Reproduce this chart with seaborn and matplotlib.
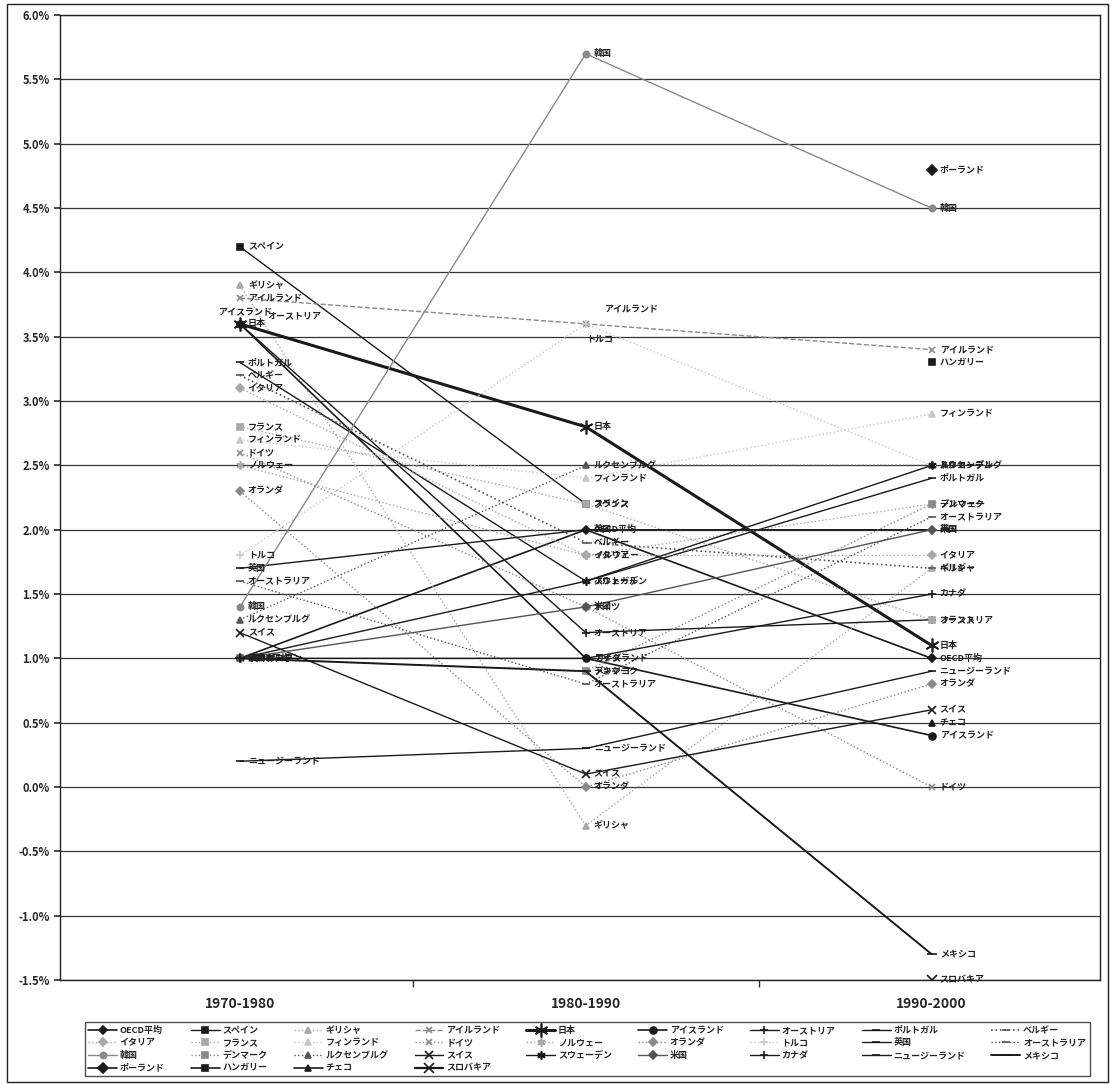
import numpy as np
import pandas as pd
import matplotlib
matplotlib.use('Agg')
import matplotlib.pyplot as plt
import seaborn as sns
from matplotlib.patches import Rectangle
from matplotlib.ticker import FuncFormatter, FixedLocator

sns.set_theme(style='white')
plt.rcParams['font.family'] = ['Noto Sans CJK JP', 'DejaVu Sans']

# 期間
periods = ['1970-1980', '1980-1990', '1990-2000']

# 国名（凡例の順）
countries = ['OECD平均', 'スペイン', 'ギリシャ', 'アイルランド', '日本', 'アイスランド',
             'オーストリア', 'ポルトガル', 'ベルギー',
             'イタリア', 'フランス', 'フィンランド', 'ドイツ', 'ノルウェー', 'オランダ',
             'トルコ', '英国', 'オーストラリア',
             '韓国', 'デンマーク', 'ルクセンブルグ', 'スイス', 'スウェーデン', '米国',
             'カナダ', 'ニュージーランド', 'メキシコ',
             'ポーランド', 'ハンガリー', 'チェコ', 'スロバキア']

# 各期間の値 (%)
v_1970 = [1.0, 4.2, 3.9, 3.8, 3.6, 3.6, 3.6, 3.3, 3.2,
          3.1, 2.8, 2.7, 2.6, 2.5, 2.3, 1.8, 1.7, 1.6,
          1.4, 1.0, 1.3, 1.2, 1.0, 1.0, 1.0, 0.2, 1.0,
          np.nan, np.nan, np.nan, np.nan]
v_1980 = [2.0, 2.2, -0.3, 3.6, 2.8, 1.0, 1.2, 1.6, 1.9,
          1.8, 2.2, 2.4, 1.4, 1.8, 0.0, 3.6, 2.0, 0.8,
          5.7, 0.9, 2.5, 0.1, 1.6, 1.4, 1.0, 0.3, 0.9,
          np.nan, np.nan, np.nan, np.nan]
v_1990 = [1.0, np.nan, 1.7, 3.4, 1.1, 0.4, 1.3, 2.4, 1.7,
          1.8, 1.3, 2.9, 0.0, 2.2, 0.8, 2.5, 2.0, 2.1,
          4.5, 2.2, 2.5, 0.6, 2.5, 2.0, 1.5, 0.9, -1.3,
          4.8, 3.3, 0.5, -1.5]

# 線のスタイル: (色, 線種, 線幅, マーカー, マーカーサイズ)
K, D, G, L, V = '#1a1a1a', '#555555', '#8a8a8a', '#a8a8a8', '#c8c8c8'
ast = (6, 2, 0)
styles = {
    'OECD平均': (K, '-', 1.2, 'D', 4.5),
    'スペイン': (K, '-', 1.0, 's', 4.5),
    'ギリシャ': (L, ':', 1.0, '^', 5),
    'アイルランド': (G, '--', 1.0, 'x', 5),
    '日本': (K, '-', 2.2, ast, 10),
    'アイスランド': (K, '-', 1.2, 'o', 5),
    'オーストリア': (K, '-', 1.0, '+', 6),
    'ポルトガル': (K, '-', 1.0, '_', 6),
    'ベルギー': (D, ':', 1.2, '_', 6),
    'イタリア': (L, ':', 1.0, 'D', 4),
    'フランス': (L, ':', 1.0, 's', 4),
    'フィンランド': (V, ':', 1.0, '^', 4),
    'ドイツ': (G, ':', 1.0, 'x', 5),
    'ノルウェー': (L, ':', 1.0, ast, 6),
    'オランダ': (G, ':', 1.0, 'D', 4),
    'トルコ': (V, ':', 1.0, '+', 6),
    '英国': (K, '-', 1.0, '_', 6),
    'オーストラリア': (D, ':', 1.0, '_', 6),
    '韓国': (G, '-', 1.0, 'o', 4.5),
    'デンマーク': (G, ':', 1.0, 's', 4),
    'ルクセンブルグ': (D, ':', 1.0, '^', 4.5),
    'スイス': (K, '-', 1.0, 'x', 5.5),
    'スウェーデン': (K, '-', 1.0, ast, 6),
    '米国': (D, '-', 1.0, 'D', 4),
    'カナダ': (K, '-', 1.0, '+', 6),
    'ニュージーランド': (K, '-', 1.0, '_', 6),
    'メキシコ': (K, '-', 1.4, '_', 7),
    'ポーランド': (K, '-', 1.2, 'D', 5),
    'ハンガリー': (K, '-', 1.2, 's', 5),
    'チェコ': (K, '-', 1.2, '^', 5),
    'スロバキア': (K, '-', 1.6, 'x', 7),
}

# ラベル位置の調整 (pixel)
label_offset = {
    ('アイスランド', 0): (-22, 11),
    ('オーストリア', 0): (28, 8),
    ('アイルランド', 1): (18, 15),
    ('トルコ', 1): (0, -15),
}

fig = plt.figure(figsize=(11.12, 10.84), dpi=100)
ax = fig.add_axes([0.054, 0.096, 0.935, 0.890])

values = [v_1970, v_1980, v_1990]
for i, name in enumerate(countries):
    color, ls, lw, mk, ms = styles[name]
    df = pd.DataFrame({'period': periods, 'value': [v[i] for v in values]}).dropna()
    sns.lineplot(data=df, x='period', y='value', ax=ax, color=color, linestyle=ls,
                 linewidth=lw, marker=mk, markersize=ms, markeredgecolor=color,
                 markerfacecolor=color, markeredgewidth=1.2, label=name, sort=False,
                 legend=False)
    for j, row in df.iterrows():
        dx, dy = label_offset.get((name, j), (8, 0))
        ax.annotate(name, (j, row['value']), xytext=(dx, dy), textcoords='offset pixels',
                    va='center', ha='left', fontsize=6.5, fontweight='bold', color='#222222')

ax.set_xlim(-0.52, 2.486)
ax.set_ylim(-1.5, 6.0)
ax.yaxis.set_major_locator(FixedLocator(np.arange(-1.5, 6.01, 0.5)))
ax.yaxis.set_major_formatter(FuncFormatter(lambda v, p: f'{v:.1f}%'))
ax.grid(axis='y', color='#333333', linewidth=0.9)
ax.grid(axis='x', visible=False)
ax.set_xlabel('')
ax.set_ylabel('')
ax.set_xticks([0, 1, 2])
ax.set_xticklabels(periods, fontsize=10, fontweight='bold')
ax.xaxis.set_minor_locator(FixedLocator([0.5, 1.5]))
ax.tick_params(axis='x', which='major', length=0, pad=12)
ax.tick_params(axis='x', which='minor', length=5, color='#333333', bottom=True)
ax.tick_params(axis='y', labelsize=8, length=4, left=True, color='#333333')
for t in ax.get_yticklabels():
    t.set_fontweight('bold')
for s in ax.spines.values():
    s.set_color('#222222')
    s.set_linewidth(1.0)

# 凡例（行方向に並べる）
handles, labels = ax.get_legend_handles_labels()
ncol = 9
order = [r * ncol + c for c in range(ncol) for r in range(4) if r * ncol + c < len(handles)]
leg = fig.legend([handles[k] for k in order], [labels[k] for k in order],
                 loc='center', bbox_to_anchor=(0.072, 0.003, 0.912, 0.058), mode='expand',
                 ncol=ncol, fontsize=6.5, frameon=True, fancybox=False,
                 edgecolor='#222222', handlelength=3.2, handletextpad=0.3,
                 borderpad=0.4, labelspacing=0.4, columnspacing=0.8)
leg.get_frame().set_linewidth(1.0)
for t in leg.get_texts():
    t.set_fontweight('bold')

fig.patches.append(Rectangle((0.006, 0.002), 0.990, 0.994, transform=fig.transFigure,
                             fill=False, edgecolor='#222222', linewidth=1.0))

fig.savefig('out.png', dpi=100)
